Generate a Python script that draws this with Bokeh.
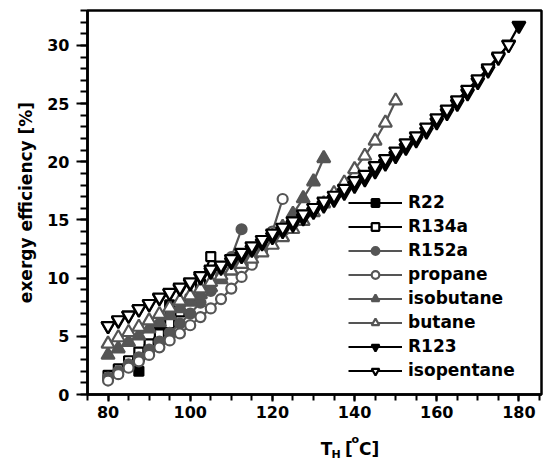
from bokeh.plotting import figure
from bokeh.models import Range1d, SingleIntervalTicker, Legend
from bokeh.layouts import column
from bokeh.core.properties import value
from bokeh.embed import file_html
from bokeh.resources import INLINE

# ---- data ----
T_H = [80, 82.5, 85, 87.5, 90, 92.5, 95, 97.5, 100, 102.5, 105, 107.5, 110, 112.5,
       115, 117.5, 120, 122.5, 125, 127.5, 130, 132.5, 135, 137.5, 140, 142.5, 145,
       147.5, 150, 152.5, 155, 157.5, 160, 162.5, 165, 167.5, 170, 172.5, 175, 177.5, 180]

t_r22 = [87.5, 90, 92.5, 95]
r22 = [2.0, 3.9, 5.8, 7.7]
r134a = [1.65, 2.2, 2.9, 3.65, 4.35, 5.2, 6.1, 7.1, 8.2, 9.5, 11.85]
r152a = [1.45, 2.0, 2.6, 3.2, 3.85, 4.55, 5.3, 6.1, 6.95, 7.9, 8.9, 10.2, 11.8, 14.2]
propane = [1.2, 1.75, 2.3, 2.85, 3.4, 4.05, 4.65, 5.25, 5.95, 6.65, 7.4, 8.2, 9.1,
           10.1, 11.15, 12.4, 14.0, 16.8]
isobutane = [3.4, 3.95, 4.5, 5.05, 5.65, 6.2, 6.8, 7.4, 7.95, 8.6, 9.2, 9.9, 10.65,
             11.4, 12.1, 12.85, 13.6, 14.4, 15.5, 16.85, 18.3, 20.3]
butane = [4.35, 4.9, 5.35, 5.8, 6.35, 6.9, 7.45, 8.05, 8.5, 9.1, 9.65, 10.2, 10.65,
          11.2, 11.65, 12.2, 12.85, 13.5, 14.2, 14.9, 15.65, 16.4, 17.3, 18.2, 19.35,
          20.5, 21.8, 23.35, 25.25]
r123 = [5.9, 6.35, 6.8, 7.3, 7.75, 8.3, 8.7, 9.1, 9.55, 10.05, 10.55, 10.9, 11.4,
        11.9, 12.45, 13.0, 13.55, 14.05, 14.6, 15.15, 15.7, 16.25, 16.75, 17.35,
        17.95, 18.5, 19.2, 19.85, 20.5, 21.2, 21.85, 22.6, 23.4, 24.2, 25.0, 25.9,
        26.85, 27.85, 28.95, 30.1, 31.7]
isopentane = [5.9, 6.4, 6.8, 7.35, 7.8, 8.35, 8.75, 9.2, 9.65, 10.2, 10.75, 11.1,
              11.65, 12.2, 12.75, 13.3, 13.85, 14.35, 14.9, 15.5, 16.05, 16.6, 17.1,
              17.7, 18.35, 18.9, 19.65, 20.25, 20.9, 21.6, 22.2, 22.95, 23.75, 24.5,
              25.3, 26.2, 27.1, 28.05, 29.05, 30.05]

BLACK = "#000000"
GREY = "#555555"
FONT = "DejaVu Sans"

series = [
    ("R22", t_r22, r22, BLACK, "square", True, 9),
    ("R134a", T_H[:len(r134a)], r134a, BLACK, "square", False, 9),
    ("R152a", T_H[:len(r152a)], r152a, GREY, "circle", True, 10),
    ("propane", T_H[:len(propane)], propane, GREY, "circle", False, 10),
    ("isobutane", T_H[:len(isobutane)], isobutane, GREY, "triangle", True, 13),
    ("butane", T_H[:len(butane)], butane, GREY, "triangle", False, 13),
    ("R123", T_H[:len(r123)], r123, BLACK, "inverted_triangle", True, 13),
    ("isopentane", T_H[:len(isopentane)], isopentane, BLACK, "inverted_triangle", False, 13),
]

p = figure(width=545, height=426, output_backend="svg", toolbar_location=None,
           x_range=Range1d(75, 185.5), y_range=Range1d(0, 33),
           min_border_left=87, min_border_right=4, min_border_top=10, min_border_bottom=32)
p.xgrid.visible = False
p.ygrid.visible = False
p.outline_line_color = "black"
p.outline_line_width = 2.5
p.outline_line_alpha = 1.0
p.background_fill_color = "white"
p.border_fill_color = "white"

items = []
for name, xs, ys, col, marker, filled, size in series:
    r1 = p.line(xs, ys, line_color=col, line_width=2.2)
    r2 = p.scatter(xs, ys, marker=marker, size=size, line_color=col, line_width=2.2,
                   fill_color=col if filled else "white")
    items.append((name, [r1, r2]))

legend = Legend(items=items, location=(261, 14))
legend.padding = 0
legend.margin = 0
legend.spacing = 4
legend.glyph_width = 54
legend.glyph_height = 19
legend.label_height = 19
legend.label_standoff = 6
legend.label_text_font = FONT
legend.label_text_font_style = "bold"
legend.label_text_font_size = "17px"
legend.label_text_color = "black"
legend.border_line_alpha = 0
legend.background_fill_alpha = 0
p.add_layout(legend, "center")

# axes
for ax in (p.xaxis[0], p.yaxis[0]):
    ax.axis_line_width = 2.5
    ax.major_tick_line_width = 2
    ax.minor_tick_line_width = 2
    ax.major_tick_in = 0
    ax.minor_tick_in = 0
    ax.major_label_text_font = FONT
    ax.major_label_text_font_style = "bold"
    ax.major_label_text_font_size = "16px"
    ax.major_label_text_color = "black"

p.xaxis[0].ticker = SingleIntervalTicker(interval=20, num_minor_ticks=4)
p.xaxis[0].major_tick_out = 7
p.xaxis[0].minor_tick_out = 6
p.xaxis[0].major_label_standoff = 4

p.yaxis[0].ticker = SingleIntervalTicker(interval=5, num_minor_ticks=5)
p.yaxis[0].major_tick_out = 11
p.yaxis[0].minor_tick_out = 7
p.yaxis[0].major_label_standoff = 7
p.yaxis[0].axis_label = "exergy efficiency [%]"
p.yaxis[0].axis_label_text_font = FONT
p.yaxis[0].axis_label_text_font_style = "bold"
p.yaxis[0].axis_label_text_font_size = "17px"
p.yaxis[0].axis_label_text_color = "black"
p.yaxis[0].axis_label_standoff = 8

# x-axis title strip: T_H [°C]
p2 = figure(width=545, height=34, output_backend="svg", toolbar_location=None,
            x_range=Range1d(0, 545), y_range=Range1d(0, 34),
            x_axis_location=None, y_axis_location=None, min_border=0)
p2.xgrid.visible = False
p2.ygrid.visible = False
p2.outline_line_color = None
p2.border_fill_color = "white"

big_txt = ["T", "[", "C]"]
big_x = [280, 309, 326]
big_y = [12, 12, 12]
small_txt = ["H", "o"]
small_x = [293, 317]
small_y = [6, 21]

p2.text(x=big_x, y=big_y, text=big_txt, text_font=value(FONT), text_font_style="bold",
        text_font_size="17px", text_color="black", text_baseline="alphabetic", text_align="left")
p2.text(x=small_x, y=small_y, text=small_txt, text_font=value(FONT), text_font_style="bold",
        text_font_size="11px", text_color="black", text_baseline="alphabetic", text_align="left")

layout = column(p, p2, spacing=0)
open("out.html", "w").write(file_html(layout, INLINE))
